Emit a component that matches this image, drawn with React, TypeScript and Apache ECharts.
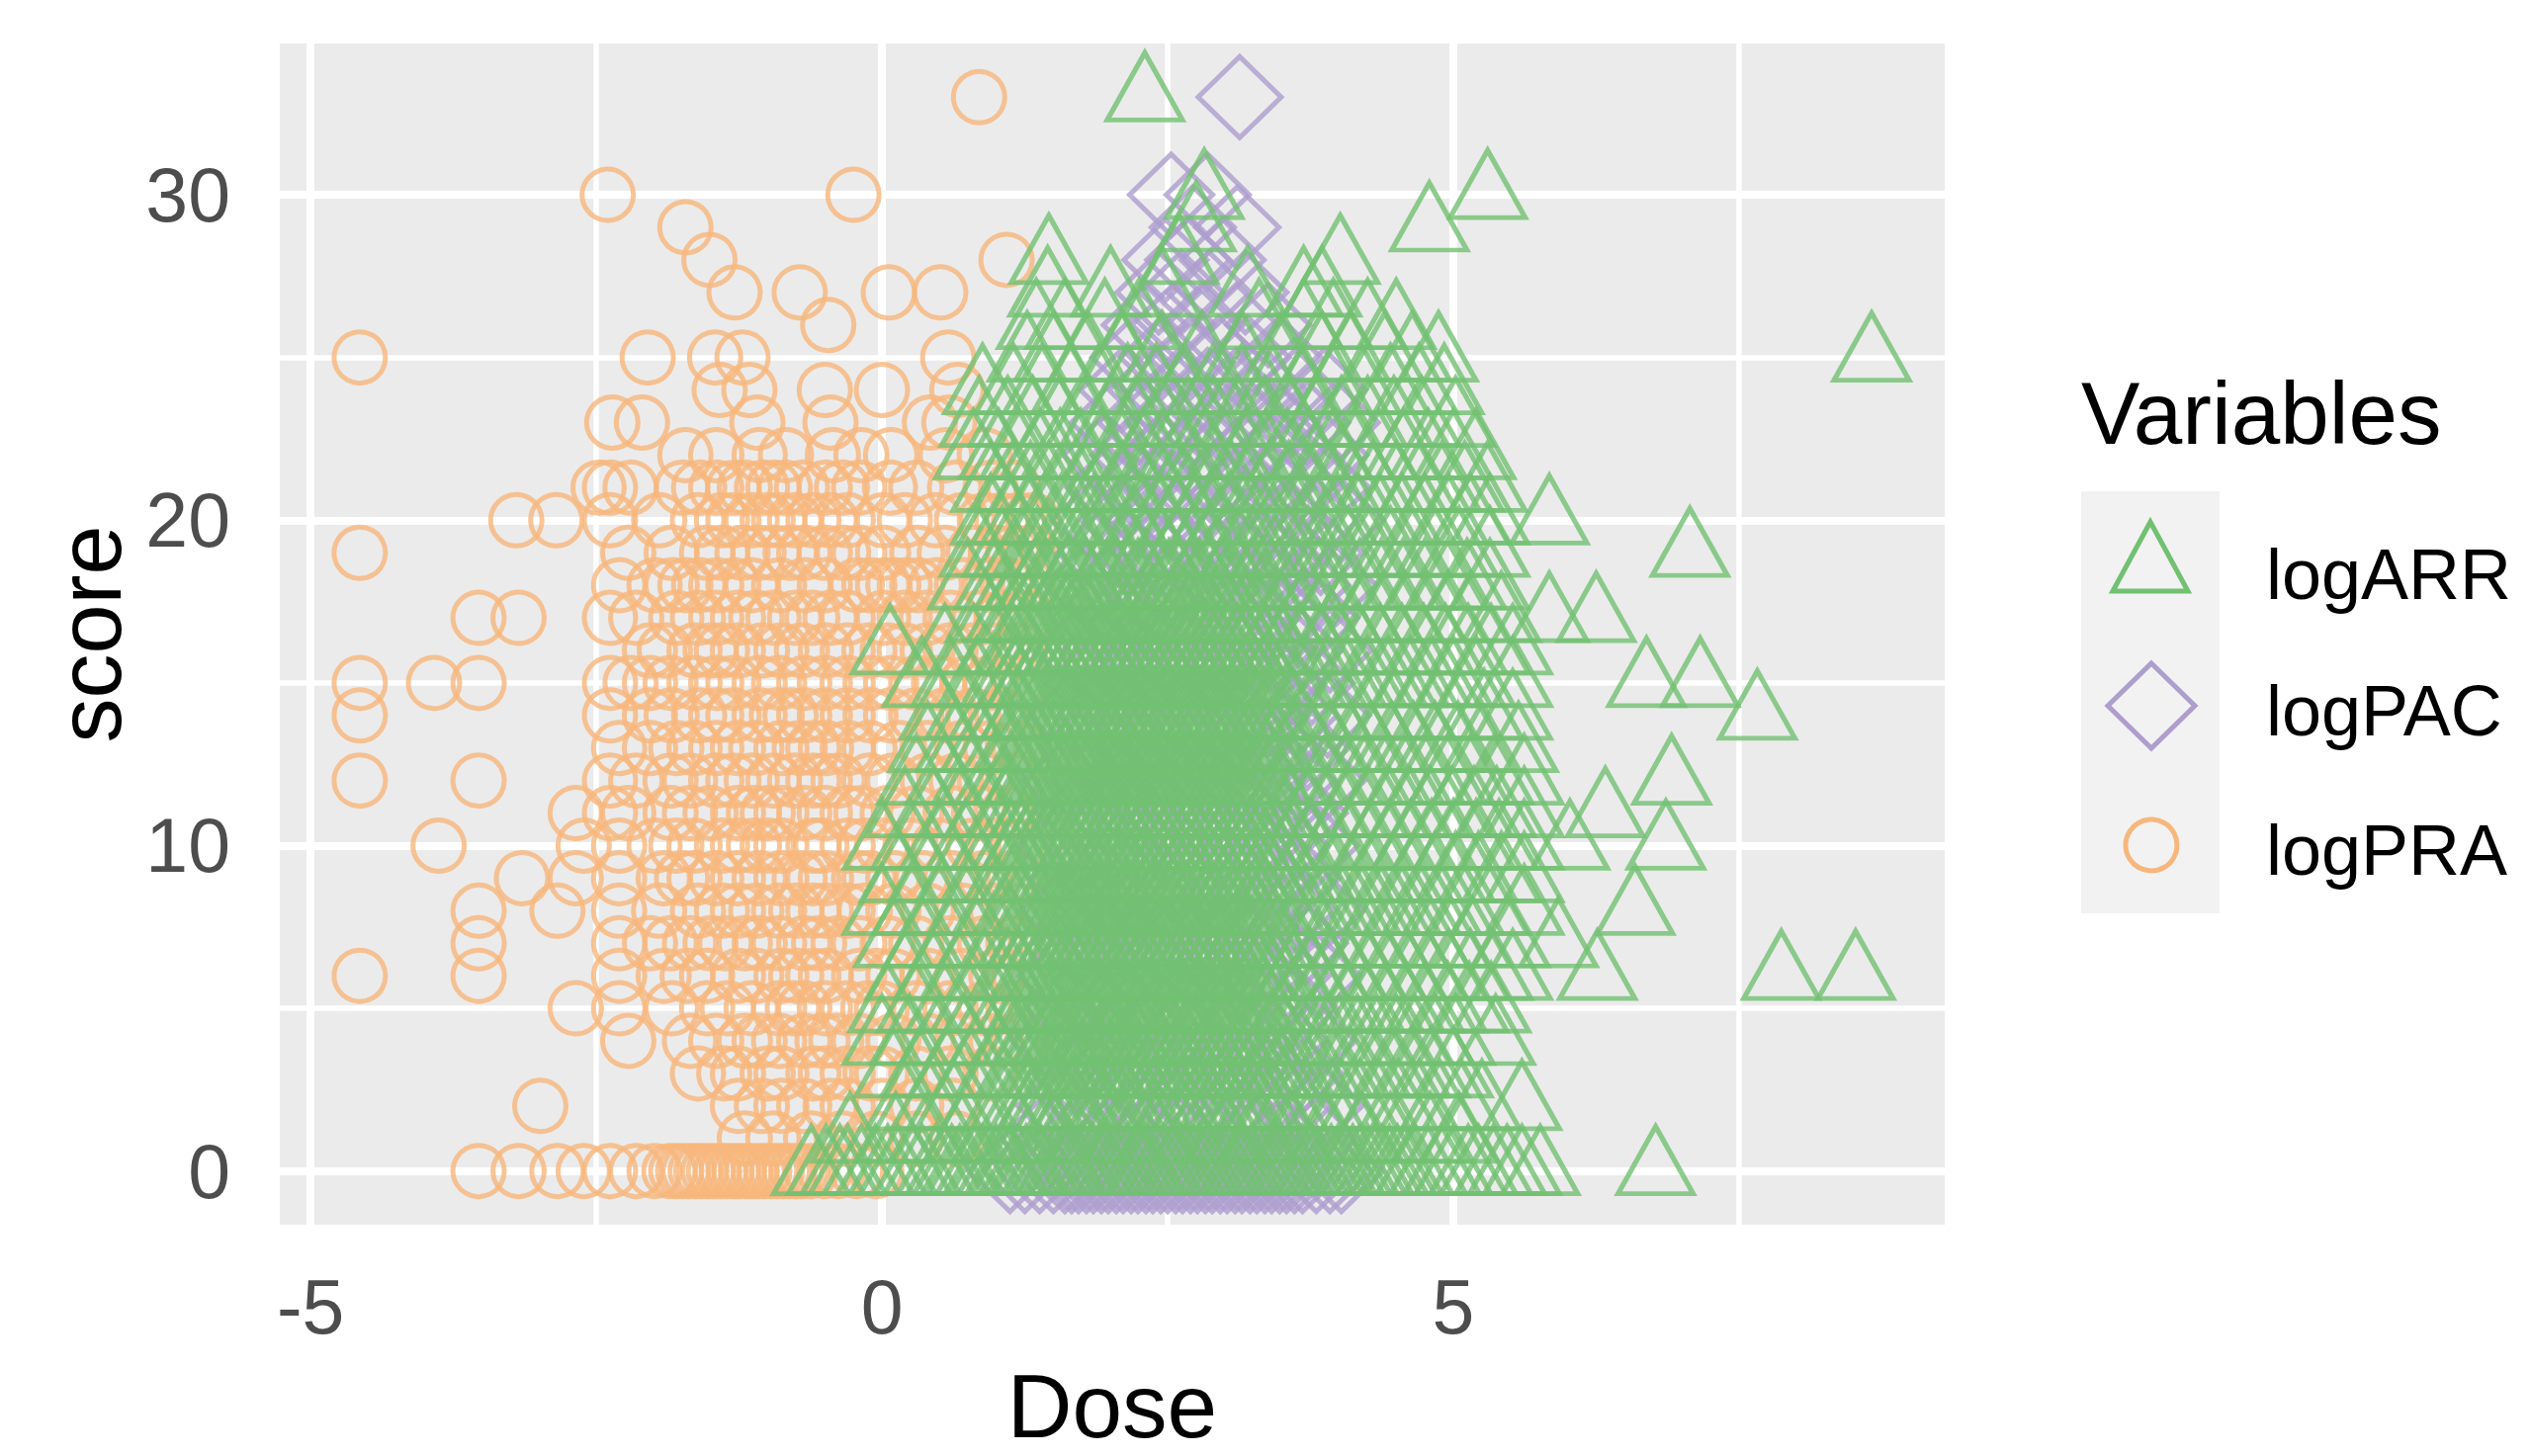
import React, { useEffect, useRef } from "react";
import * as echarts from "echarts";

// ---- axes ----
const X_TICKS = [-5, 0, 5];
const Y_TICKS = [0, 10, 20, 30];
const X_MINOR = [-2.5, 2.5, 7.5];
const Y_MINOR = [5, 15, 25];
const X_LIMITS = [-5.27, 9.3];
const Y_LIMITS = [-1.65, 34.65];
const VARIABLES = ["logARR", "logPAC", "logPRA"];

// ---- data: for each series, row index = score, values = Dose ----
const logARR: number[][] = [
  /* 0 */ [-0.62, -0.49, -0.37, -0.3, -0.18, -0.06, 0.05, 0.14, 0.27, 0.35, 0.47, 0.55, 0.61, 0.68, 0.73, 0.81, 0.88, 0.93, 1.0, 1.07, 1.12, 1.2, 1.26, 1.31, 1.39, 1.45, 1.52, 1.58, 1.63, 1.71, 1.77, 1.84, 1.9, 1.96, 2.03, 2.09, 2.15, 2.22, 2.28, 2.33, 2.41, 2.47, 2.54, 2.6, 2.66, 2.73, 2.79, 2.85, 2.92, 2.98, 3.04, 3.11, 3.17, 3.23, 3.3, 3.36, 3.42, 3.49, 3.55, 3.61, 3.68, 3.74, 3.8, 3.87, 3.93, 3.99, 4.06, 4.12, 4.18, 4.25, 4.31, 4.38, 4.44, 4.51, 4.57, 4.66, 4.78, 4.9, 5.0, 5.13, 5.22, 5.35, 5.47, 5.6, 5.76, 6.77],
  /* 1 */ [-0.28, 0.12, 0.4, 0.7, 0.95, 1.2, 1.5, 1.8, 2.1, 2.4, 2.7, 3.0, 3.3, 3.6, 3.9, 4.2, 4.45, 4.8, 5.05],
  /* 2 */ [0.2, 0.42, 0.63, 0.85, 1.05, 1.2, 1.28, 1.35, 1.44, 1.51, 1.6, 1.67, 1.75, 1.84, 1.9, 1.99, 2.07, 2.14, 2.23, 2.3, 2.38, 2.47, 2.54, 2.62, 2.71, 2.78, 2.86, 2.94, 3.02, 3.1, 3.18, 3.26, 3.34, 3.42, 3.56, 3.72, 3.88, 4.02, 4.18, 4.35, 4.52, 4.7, 4.88, 5.07, 5.25, 5.6],
  /* 3 */ [0.1, 0.33, 0.57, 0.78, 0.98, 1.16, 1.25, 1.33, 1.41, 1.5, 1.57, 1.66, 1.73, 1.82, 1.89, 1.97, 2.06, 2.13, 2.21, 2.29, 2.37, 2.45, 2.53, 2.61, 2.69, 2.77, 2.85, 2.93, 3.01, 3.09, 3.17, 3.25, 3.33, 3.41, 3.49, 3.62, 3.78, 3.95, 4.1, 4.28, 4.46, 4.63, 4.8, 5.0],
  /* 4 */ [0.0, 0.24, 0.5, 0.72, 0.93, 1.12, 1.22, 1.3, 1.38, 1.47, 1.55, 1.62, 1.71, 1.79, 1.87, 1.95, 2.02, 2.11, 2.19, 2.27, 2.35, 2.43, 2.51, 2.6, 2.68, 2.75, 2.84, 2.92, 3.0, 3.08, 3.16, 3.24, 3.32, 3.4, 3.53, 3.68, 3.83, 4.0, 4.16, 4.33, 4.5, 4.66, 4.84, 5.02, 5.37],
  /* 5 */ [0.05, 0.3, 0.55, 0.77, 0.99, 1.17, 1.26, 1.34, 1.42, 1.49, 1.58, 1.65, 1.74, 1.81, 1.9, 1.97, 2.05, 2.14, 2.21, 2.3, 2.38, 2.46, 2.54, 2.63, 2.7, 2.78, 2.87, 2.95, 3.03, 3.11, 3.19, 3.27, 3.36, 3.44, 3.58, 3.74, 3.9, 4.07, 4.23, 4.4, 4.58, 4.75, 4.95, 5.14, 5.33],
  /* 6 */ [0.2, 0.45, 0.68, 0.9, 1.1, 1.2, 1.29, 1.37, 1.45, 1.53, 1.61, 1.69, 1.77, 1.86, 1.94, 2.01, 2.1, 2.18, 2.26, 2.34, 2.42, 2.5, 2.58, 2.66, 2.74, 2.82, 2.9, 2.98, 3.06, 3.14, 3.22, 3.3, 3.38, 3.46, 3.6, 3.75, 3.92, 4.08, 4.25, 4.42, 4.6, 4.78, 4.96, 5.15, 5.35, 5.52, 6.26, 7.87, 8.52],
  /* 7 */ [0.1, 0.36, 0.6, 0.83, 1.03, 1.18, 1.27, 1.35, 1.43, 1.52, 1.59, 1.68, 1.76, 1.83, 1.92, 2.0, 2.08, 2.16, 2.24, 2.32, 2.41, 2.49, 2.57, 2.65, 2.73, 2.81, 2.89, 2.97, 3.05, 3.13, 3.21, 3.29, 3.37, 3.45, 3.59, 3.76, 3.93, 4.1, 4.27, 4.44, 4.62, 4.8, 4.98, 5.17, 5.5, 5.92],
  /* 8 */ [0.0, 0.26, 0.5, 0.74, 0.96, 1.14, 1.23, 1.31, 1.39, 1.48, 1.56, 1.64, 1.72, 1.8, 1.88, 1.96, 2.04, 2.12, 2.2, 2.28, 2.36, 2.44, 2.52, 2.6, 2.68, 2.76, 2.84, 2.92, 3.0, 3.08, 3.16, 3.24, 3.32, 3.4, 3.54, 3.7, 3.86, 4.03, 4.2, 4.37, 4.55, 4.72, 4.9, 5.1, 5.32, 5.62, 6.59],
  /* 9 */ [0.15, 0.4, 0.64, 0.86, 1.06, 1.2, 1.28, 1.36, 1.44, 1.53, 1.61, 1.69, 1.77, 1.85, 1.93, 2.01, 2.09, 2.17, 2.25, 2.33, 2.42, 2.5, 2.58, 2.66, 2.74, 2.82, 2.9, 2.99, 3.07, 3.15, 3.23, 3.31, 3.39, 3.47, 3.62, 3.8, 3.97, 4.14, 4.31, 4.48, 4.66, 4.84, 5.02, 5.22, 5.42, 5.62],
  /* 10 */ [0.0, 0.25, 0.5, 0.73, 0.95, 1.13, 1.22, 1.3, 1.39, 1.47, 1.55, 1.63, 1.71, 1.79, 1.87, 1.95, 2.03, 2.11, 2.19, 2.27, 2.35, 2.43, 2.51, 2.59, 2.67, 2.75, 2.83, 2.91, 2.99, 3.07, 3.15, 3.23, 3.31, 3.39, 3.47, 3.6, 3.76, 3.93, 4.1, 4.28, 4.45, 4.63, 4.81, 5.0, 5.2, 5.4, 5.62, 6.02, 6.86],
  /* 11 */ [0.2, 0.45, 0.68, 0.9, 1.08, 1.2, 1.28, 1.36, 1.45, 1.53, 1.61, 1.69, 1.77, 1.85, 1.93, 2.02, 2.1, 2.18, 2.26, 2.34, 2.42, 2.5, 2.58, 2.66, 2.74, 2.82, 2.9, 2.98, 3.06, 3.14, 3.22, 3.3, 3.38, 3.46, 3.58, 3.74, 3.91, 4.08, 4.26, 4.44, 4.62, 4.8, 4.99, 5.18, 5.38, 5.62, 6.33],
  /* 12 */ [0.3, 0.55, 0.78, 0.98, 1.14, 1.24, 1.32, 1.4, 1.49, 1.57, 1.65, 1.73, 1.81, 1.89, 1.97, 2.05, 2.13, 2.21, 2.29, 2.37, 2.45, 2.53, 2.61, 2.69, 2.77, 2.85, 2.93, 3.01, 3.09, 3.17, 3.25, 3.33, 3.41, 3.55, 3.71, 3.88, 4.05, 4.22, 4.4, 4.58, 4.76, 4.95, 5.15, 5.36, 5.62, 6.91],
  /* 13 */ [0.4, 0.64, 0.86, 1.05, 1.18, 1.27, 1.35, 1.43, 1.51, 1.6, 1.68, 1.76, 1.84, 1.92, 2.0, 2.08, 2.16, 2.24, 2.32, 2.4, 2.48, 2.56, 2.64, 2.72, 2.8, 2.88, 2.96, 3.04, 3.12, 3.2, 3.28, 3.36, 3.44, 3.58, 3.75, 3.92, 4.1, 4.28, 4.46, 4.65, 4.84, 5.04, 5.25, 5.57],
  /* 14 */ [0.5, 0.72, 0.93, 1.1, 1.21, 1.29, 1.37, 1.46, 1.54, 1.62, 1.7, 1.78, 1.86, 1.94, 2.02, 2.1, 2.18, 2.26, 2.34, 2.42, 2.5, 2.58, 2.66, 2.74, 2.82, 2.9, 2.98, 3.06, 3.14, 3.22, 3.3, 3.38, 3.46, 3.6, 3.77, 3.94, 4.12, 4.3, 4.48, 4.67, 4.86, 5.06, 5.27, 5.52, 7.66],
  /* 15 */ [0.35, 0.6, 0.83, 1.03, 1.17, 1.26, 1.34, 1.42, 1.5, 1.58, 1.66, 1.74, 1.82, 1.9, 1.98, 2.06, 2.14, 2.22, 2.3, 2.38, 2.46, 2.54, 2.62, 2.7, 2.78, 2.86, 2.94, 3.02, 3.1, 3.18, 3.26, 3.34, 3.42, 3.56, 3.72, 3.9, 4.07, 4.25, 4.43, 4.62, 4.81, 5.0, 5.2, 5.52, 6.69, 7.16],
  /* 16 */ [0.07, 0.55, 0.8, 1.0, 1.15, 1.25, 1.33, 1.41, 1.5, 1.58, 1.66, 1.74, 1.83, 1.91, 1.99, 2.07, 2.15, 2.23, 2.31, 2.39, 2.47, 2.55, 2.63, 2.71, 2.79, 2.87, 2.95, 3.03, 3.11, 3.19, 3.27, 3.35, 3.5, 3.66, 3.83, 4.0, 4.18, 4.36, 4.55, 4.74, 4.93, 5.13, 5.33, 5.52],
  /* 17 */ [0.9, 1.08, 1.2, 1.28, 1.37, 1.45, 1.53, 1.62, 1.7, 1.78, 1.86, 1.95, 2.03, 2.11, 2.19, 2.28, 2.36, 2.44, 2.52, 2.61, 2.69, 2.77, 2.85, 2.94, 3.02, 3.1, 3.18, 3.27, 3.35, 3.5, 3.67, 3.85, 4.02, 4.2, 4.38, 4.57, 4.76, 4.95, 5.15, 5.42, 5.84, 6.25],
  /* 18 */ [0.75, 0.98, 1.15, 1.25, 1.34, 1.43, 1.52, 1.61, 1.7, 1.79, 1.88, 1.97, 2.06, 2.15, 2.24, 2.33, 2.42, 2.51, 2.6, 2.69, 2.78, 2.87, 2.96, 3.05, 3.14, 3.23, 3.32, 3.47, 3.64, 3.82, 4.0, 4.18, 4.37, 4.56, 4.75, 4.95, 5.12, 5.32],
  /* 19 */ [0.85, 1.05, 1.22, 1.36, 1.5, 1.63, 1.77, 1.9, 2.04, 2.17, 2.31, 2.44, 2.58, 2.71, 2.85, 2.98, 3.12, 3.25, 3.4, 3.56, 3.73, 3.9, 4.08, 4.26, 4.45, 4.64, 4.84, 5.05, 5.32, 7.07],
  /* 20 */ [0.95, 1.12, 1.28, 1.42, 1.57, 1.71, 1.86, 2.0, 2.15, 2.29, 2.44, 2.58, 2.73, 2.87, 3.02, 3.16, 3.31, 3.47, 3.64, 3.81, 3.99, 4.17, 4.36, 4.55, 4.75, 4.96, 5.15, 5.32, 5.84],
  /* 21 */ [0.95, 1.14, 1.3, 1.46, 1.62, 1.78, 1.94, 2.1, 2.26, 2.42, 2.58, 2.74, 2.9, 3.06, 3.22, 3.39, 3.56, 3.74, 3.92, 4.11, 4.3, 4.5, 4.7, 4.9, 5.1, 5.3],
  /* 22 */ [0.8, 1.02, 1.2, 1.38, 1.56, 1.74, 1.92, 2.1, 2.28, 2.46, 2.64, 2.82, 3.0, 3.18, 3.36, 3.55, 3.74, 3.94, 4.14, 4.35, 4.56, 4.78, 5.0, 5.2],
  /* 23 */ [0.85, 1.1, 1.32, 1.55, 1.78, 2.0, 2.22, 2.45, 2.68, 2.9, 3.12, 3.35, 3.57, 3.8, 4.02, 4.25, 4.48, 4.72, 5.02],
  /* 24 */ [0.88, 1.15, 1.4, 1.65, 1.9, 2.15, 2.4, 2.65, 2.9, 3.15, 3.42, 3.68, 3.95, 4.2, 4.45, 4.7, 4.92],
  /* 25 */ [1.27, 1.5, 1.8, 2.1, 2.45, 2.8, 3.15, 3.5, 3.85, 4.1, 4.4, 4.64, 4.87, 8.66],
  /* 26 */ [1.35, 1.6, 1.95, 2.25, 3.3, 3.69, 3.95, 4.25, 4.5],
  /* 27 */ [1.45, 2.0, 2.45, 3.2, 3.69, 3.85],
  /* 28 */ [1.46, 2.6, 4.01],
  /* 29 */ [2.75, 4.79],
  /* 30 */ [2.82, 5.3],
  /* 31 */ [],
  /* 32 */ [],
  /* 33 */ [2.3],
];

const logPAC: number[][] = [
  /* 0 */ [1.12, 1.25, 1.38, 1.5, 1.6, 1.66, 1.72, 1.79, 1.85, 1.92, 1.98, 2.05, 2.11, 2.18, 2.24, 2.31, 2.37, 2.44, 2.5, 2.57, 2.63, 2.7, 2.76, 2.83, 2.89, 2.96, 3.02, 3.09, 3.15, 3.22, 3.28, 3.35, 3.41, 3.48, 3.54, 3.61, 3.68, 3.8, 3.92, 4.02],
  /* 1 */ [1.4, 1.7, 2.0, 2.3, 2.6, 2.9, 3.2, 3.5, 3.8],
  /* 2 */ [1.55, 1.82, 2.04, 2.31, 2.58, 2.79, 3.06, 3.3, 3.57, 3.84],
  /* 3 */ [1.68, 1.93, 2.17, 2.42, 2.66, 2.91, 3.14, 3.41, 3.66],
  /* 4 */ [1.5, 1.77, 2.01, 2.26, 2.52, 2.74, 3.0, 3.27, 3.52, 3.78],
  /* 5 */ [1.62, 1.88, 2.12, 2.37, 2.61, 2.86, 3.1, 3.36, 3.62],
  /* 6 */ [1.56, 1.81, 2.06, 2.29, 2.55, 2.8, 3.04, 3.31, 3.55, 3.82],
  /* 7 */ [1.7, 1.95, 2.2, 2.44, 2.68, 2.93, 3.18, 3.43, 3.7],
  /* 8 */ [1.58, 1.84, 2.09, 2.33, 2.57, 2.83, 3.07, 3.34, 3.6, 3.85],
  /* 9 */ [1.66, 1.9, 2.15, 2.4, 2.64, 2.89, 3.13, 3.39, 3.64],
  /* 10 */ [1.55, 1.8, 2.05, 2.3, 2.55, 2.78, 3.03, 3.29, 3.54, 3.8],
  /* 11 */ [1.72, 1.97, 2.22, 2.46, 2.7, 2.95, 3.2, 3.45, 3.7],
  /* 12 */ [1.6, 1.85, 2.1, 2.35, 2.6, 2.85, 3.1, 3.35, 3.6, 3.86],
  /* 13 */ [1.75, 2.0, 2.24, 2.48, 2.73, 2.97, 3.22, 3.47, 3.72],
  /* 14 */ [1.65, 1.9, 2.14, 2.38, 2.63, 2.87, 3.12, 3.37, 3.62, 3.9],
  /* 15 */ [1.8, 2.04, 2.28, 2.52, 2.77, 3.01, 3.26, 3.5, 3.76],
  /* 16 */ [1.7, 1.94, 2.18, 2.43, 2.67, 2.92, 3.16, 3.41, 3.66, 3.92],
  /* 17 */ [1.85, 2.08, 2.32, 2.56, 2.8, 3.05, 3.29, 3.54, 3.8],
  /* 18 */ [1.78, 2.02, 2.26, 2.5, 2.74, 2.98, 3.22, 3.47, 3.72, 3.96],
  /* 19 */ [1.9, 2.14, 2.38, 2.62, 2.86, 3.1, 3.34, 3.58, 3.84],
  /* 20 */ [1.85, 2.1, 2.34, 2.58, 2.82, 3.06, 3.3, 3.55, 3.8, 4.02],
  /* 21 */ [1.98, 2.22, 2.46, 2.7, 2.94, 3.18, 3.42, 3.66, 3.9],
  /* 22 */ [1.95, 2.2, 2.44, 2.68, 2.92, 3.16, 3.4, 3.64, 3.88],
  /* 23 */ [2.02, 2.26, 2.5, 2.74, 2.98, 3.22, 3.46, 3.72, 3.98],
  /* 24 */ [2.1, 2.35, 2.6, 2.85, 3.1, 3.35, 3.62, 3.87],
  /* 25 */ [2.2, 2.45, 2.7, 2.95, 3.2, 3.48],
  /* 26 */ [2.3, 2.55, 2.8, 3.1, 3.38],
  /* 27 */ [2.42, 2.62, 2.86, 3.18],
  /* 28 */ [2.48, 2.68, 2.98],
  /* 29 */ [2.72, 3.11],
  /* 30 */ [2.53, 2.85],
  /* 31 */ [],
  /* 32 */ [],
  /* 33 */ [3.13],
];

const logPRA: number[][] = [
  /* 0 */ [-3.53, -3.18, -2.84, -2.61, -2.38, -2.15, -1.99, -1.86, -1.8, -1.74, -1.69, -1.63, -1.58, -1.52, -1.47, -1.41, -1.36, -1.3, -1.25, -1.19, -1.14, -1.08, -1.03, -0.97, -0.92, -0.86, -0.81, -0.75, -0.7, -0.62, -0.5, -0.38, -0.22, -0.05],
  /* 1 */ [-1.2, -0.95, -0.62, -0.35, -0.05, 0.3, 0.65],
  /* 2 */ [-2.99, -1.26, -1.05, -0.88, -0.68, -0.45, -0.3, 0.0, 0.3, 0.62],
  /* 3 */ [-1.61, -1.38, -1.26, -1.0, -0.88, -0.6, -0.49, -0.3, -0.1, 0.0, 0.3, 0.6, 0.95],
  /* 4 */ [-2.22, -1.68, -1.45, -1.2, -1.07, -0.9, -0.68, -0.52, -0.4, -0.2, 0.1, 0.4, 0.7, 1.0, 1.2],
  /* 5 */ [-2.68, -2.3, -1.84, -1.53, -1.35, -1.14, -0.9, -0.78, -0.68, -0.5, -0.3, -0.12, 0.0, 0.3, 0.6, 0.9, 1.15],
  /* 6 */ [-4.57, -3.53, -2.3, -1.91, -1.7, -1.53, -1.26, -1.1, -0.88, -0.75, -0.6, -0.49, -0.2, -0.05, 0.1, 0.4, 0.7, 1.0, 1.2],
  /* 7 */ [-3.53, -2.3, -2.03, -1.85, -1.68, -1.5, -1.37, -1.2, -1.07, -0.9, -0.68, -0.55, -0.38, -0.2, 0.05, 0.3, 0.6, 0.9, 1.15],
  /* 8 */ [-3.53, -2.84, -2.3, -1.95, -1.61, -1.4, -1.26, -1.1, -0.9, -0.75, -0.6, -0.49, -0.3, -0.15, 0.1, 0.4, 0.7, 1.0, 1.2],
  /* 9 */ [-3.15, -2.68, -2.3, -1.91, -1.75, -1.64, -1.45, -1.26, -1.07, -0.88, -0.72, -0.6, -0.49, -0.2, -0.11, 0.1, 0.35, 0.6, 0.9, 1.15],
  /* 10 */ [-3.88, -2.61, -2.3, -1.99, -1.8, -1.64, -1.4, -1.26, -1.12, -1.0, -0.88, -0.6, -0.53, -0.3, -0.15, 0.0, 0.25, 0.5, 0.8, 1.0, 1.2],
  /* 11 */ [-2.68, -2.38, -2.22, -1.85, -1.68, -1.5, -1.26, -1.12, -1.0, -0.88, -0.68, -0.5, -0.3, -0.18, 0.05, 0.3, 0.6, 0.85, 1.1],
  /* 12 */ [-4.57, -3.53, -2.38, -2.15, -1.85, -1.68, -1.45, -1.3, -1.14, -0.95, -0.76, -0.6, -0.5, -0.38, -0.11, 0.1, 0.4, 0.65, 0.9, 1.15],
  /* 13 */ [-2.3, -2.03, -1.8, -1.64, -1.45, -1.26, -1.1, -0.88, -0.72, -0.6, -0.49, -0.3, -0.11, 0.15, 0.4, 0.7, 0.95, 1.2],
  /* 14 */ [-4.57, -2.38, -2.03, -1.84, -1.6, -1.45, -1.3, -1.07, -0.92, -0.8, -0.68, -0.5, -0.3, -0.1, 0.08, 0.3, 0.55, 0.8, 1.05],
  /* 15 */ [-4.57, -3.92, -3.53, -2.38, -2.2, -2.03, -1.85, -1.64, -1.45, -1.3, -1.07, -0.9, -0.68, -0.5, -0.3, -0.1, 0.08, 0.3, 0.5, 0.75, 0.95, 1.2],
  /* 16 */ [-2.03, -1.9, -1.64, -1.5, -1.4, -1.26, -1.05, -0.88, -0.7, -0.49, -0.3, -0.11, 0.05, 0.2, 0.4, 0.6, 0.8, 1.0, 1.2],
  /* 17 */ [-3.53, -3.18, -2.38, -2.15, -1.8, -1.61, -1.45, -1.26, -1.1, -0.95, -0.76, -0.61, -0.45, -0.3, 0.01, 0.2, 0.39, 0.6, 0.85, 1.05, 1.25],
  /* 18 */ [-2.3, -1.99, -1.84, -1.72, -1.6, -1.45, -1.3, -1.14, -0.9, -0.68, -0.5, -0.22, -0.11, 0.01, 0.1, 0.2, 0.31, 0.47, 0.7, 0.95, 1.1, 1.28],
  /* 19 */ [-4.57, -2.22, -1.84, -1.53, -1.4, -1.22, -1.08, -0.95, -0.8, -0.68, -0.5, -0.34, -0.2, 0.01, 0.31, 0.55, 0.8, 1.0, 1.15, 1.3],
  /* 20 */ [-3.2, -2.85, -2.38, -1.95, -1.61, -1.4, -1.3, -1.14, -1.0, -0.9, -0.76, -0.6, -0.45, -0.3, 0.01, 0.2, 0.47, 0.7, 0.9, 1.05, 1.2, 1.32],
  /* 21 */ [-2.48, -2.38, -2.2, -1.75, -1.6, -1.45, -1.3, -1.2, -1.05, -0.95, -0.85, -0.7, -0.5, -0.35, -0.2, 0.07, 0.3, 0.64, 0.95, 1.15],
  /* 22 */ [-1.72, -1.45, -1.07, -0.84, -0.43, -0.18, 0.08, 0.56, 0.9],
  /* 23 */ [-2.36, -2.1, -1.09, -0.45, 0.42, 0.59],
  /* 24 */ [-1.42, -1.16, -0.5, 0.0, 0.66],
  /* 25 */ [-4.57, -2.05, -1.46, -1.22, 0.58],
  /* 26 */ [-0.47],
  /* 27 */ [-1.29, -0.72, 0.06, 0.51],
  /* 28 */ [-1.51, 1.09],
  /* 29 */ [-1.72],
  /* 30 */ [-2.4, -0.25],
  /* 31 */ [],
  /* 32 */ [],
  /* 33 */ [0.85],
];

const GREEN = "#72C072";
const PURPLE = "#AE9ECE";
const ORANGE = "#F7B77C";
const FONT = '"Liberation Sans", Arial, Helvetica, sans-serif';

function rowsToPoints(rows: number[][]): number[][] {
  const pts: number[][] = [];
  rows.forEach((xs, score) => xs.forEach((x) => pts.push([x, score])));
  return pts;
}

export default function App() {
  const ref = useRef<HTMLDivElement>(null);

  useEffect(() => {
    document.body.style.margin = "0";
    document.body.style.overflow = "hidden";
    const chart = echarts.init(ref.current as HTMLDivElement, null, { renderer: "svg" });

    const majorLine = { color: "#FFFFFF", width: 8, type: "solid", opacity: 1 };
    const minorLine = { color: "#FFFFFF", width: 5.5, type: "solid", opacity: 1 };
    const gridLines = [
      ...X_MINOR.map((v) => ({ xAxis: v, lineStyle: minorLine })),
      ...Y_MINOR.map((v) => ({ yAxis: v, lineStyle: minorLine })),
      ...X_TICKS.map((v) => ({ xAxis: v, lineStyle: majorLine })),
      ...Y_TICKS.map((v) => ({ yAxis: v, lineStyle: majorLine })),
    ];

    const scatterBase = {
      type: "scatter",
      silent: true,
      progressive: 0,
      emphasis: { disabled: true },
    };
    const STROKE = 5;

    chart.setOption({
      animation: false,
      backgroundColor: "#FFFFFF",
      grid: {
        show: true,
        backgroundColor: "#EBEBEB",
        borderWidth: 0,
        left: 283,
        right: 592,
        top: 44,
        bottom: 223,
      },
      xAxis: {
        type: "value",
        min: X_LIMITS[0],
        max: X_LIMITS[1],
        axisLine: { show: false },
        splitLine: { show: false },
        axisTick: {
          show: true,
          customValues: X_TICKS,
          length: 25,
          lineStyle: { color: "#333333", width: 4 },
        },
        axisLabel: {
          customValues: X_TICKS,
          fontSize: 77,
          color: "#4D4D4D",
          fontFamily: FONT,
          margin: 44,
        },
        name: "Dose",
        nameLocation: "middle",
        nameGap: 138,
        nameTextStyle: { fontSize: 91, color: "#000000", fontFamily: FONT },
      },
      yAxis: {
        type: "value",
        min: Y_LIMITS[0],
        max: Y_LIMITS[1],
        axisLine: { show: false },
        splitLine: { show: false },
        axisTick: {
          show: true,
          customValues: Y_TICKS,
          length: 25,
          lineStyle: { color: "#333333", width: 4 },
        },
        axisLabel: {
          customValues: Y_TICKS,
          fontSize: 77,
          color: "#4D4D4D",
          fontFamily: FONT,
          margin: 50,
          padding: [20, 0, 0, 0],
        },
        name: "score",
        nameLocation: "middle",
        nameGap: 146,
        nameRotate: 90,
        nameTextStyle: { fontSize: 90, color: "#000000", fontFamily: FONT },
      },
      series: [
        {
          type: "scatter",
          data: [],
          silent: true,
          z: 1,
          markLine: {
            z: 1,
            silent: true,
            symbol: ["none", "none"],
            label: { show: false },
            emphasis: { disabled: true },
            animation: false,
            lineStyle: { color: "#FFFFFF", width: 8, type: "solid", opacity: 1 },
            data: gridLines,
          },
        },
        {
          ...scatterBase,
          name: VARIABLES[2],
          z: 2,
          data: rowsToPoints(logPRA),
          symbol: "circle",
          symbolSize: 52,
          itemStyle: { color: "rgba(0,0,0,0)", borderColor: ORANGE, borderWidth: STROKE },
        },
        {
          ...scatterBase,
          name: VARIABLES[1],
          z: 3,
          data: rowsToPoints(logPAC),
          symbol: "diamond",
          symbolSize: [84, 82],
          itemStyle: { color: "rgba(0,0,0,0)", borderColor: PURPLE, borderWidth: STROKE },
        },
        {
          ...scatterBase,
          name: VARIABLES[0],
          z: 4,
          data: rowsToPoints(logARR),
          symbol: "triangle",
          symbolSize: [76, 68],
          symbolOffset: [0, -11],
          itemStyle: { color: "rgba(0,0,0,0)", borderColor: GREEN, borderWidth: STROKE },
        },
      ],
      graphic: {
        elements: [
          {
            type: "text",
            x: 2105,
            y: 418,
            silent: true,
            style: {
              text: "Variables",
              fontSize: 89,
              fontFamily: FONT,
              fill: "#000000",
              align: "left",
              verticalAlign: "middle",
            },
          },
          {
            type: "rect",
            silent: true,
            shape: { x: 2105, y: 497, width: 140, height: 427 },
            style: { fill: "#F2F2F2" },
          },
          {
            type: "polygon",
            silent: true,
            shape: { points: [[2175, 528], [2137, 598], [2213, 598]] },
            style: { fill: "none", stroke: GREEN, lineWidth: STROKE },
          },
          {
            type: "polygon",
            silent: true,
            shape: { points: [[2176, 671], [2220, 714], [2176, 757], [2132, 714]] },
            style: { fill: "none", stroke: PURPLE, lineWidth: STROKE },
          },
          {
            type: "circle",
            silent: true,
            shape: { cx: 2176, cy: 855, r: 26 },
            style: { fill: "none", stroke: ORANGE, lineWidth: STROKE },
          },
          ...VARIABLES.map((label, i) => ({
            type: "text",
            x: 2292,
            y: [581, 719, 860][i],
            silent: true,
            style: {
              text: label,
              fontSize: 72,
              fontFamily: FONT,
              fill: "#000000",
              align: "left",
              verticalAlign: "middle",
            },
          })),
        ],
      },
    });

    return () => chart.dispose();
  }, []);

  return <div ref={ref} style={{ width: 2559, height: 1473 }} />;
}
